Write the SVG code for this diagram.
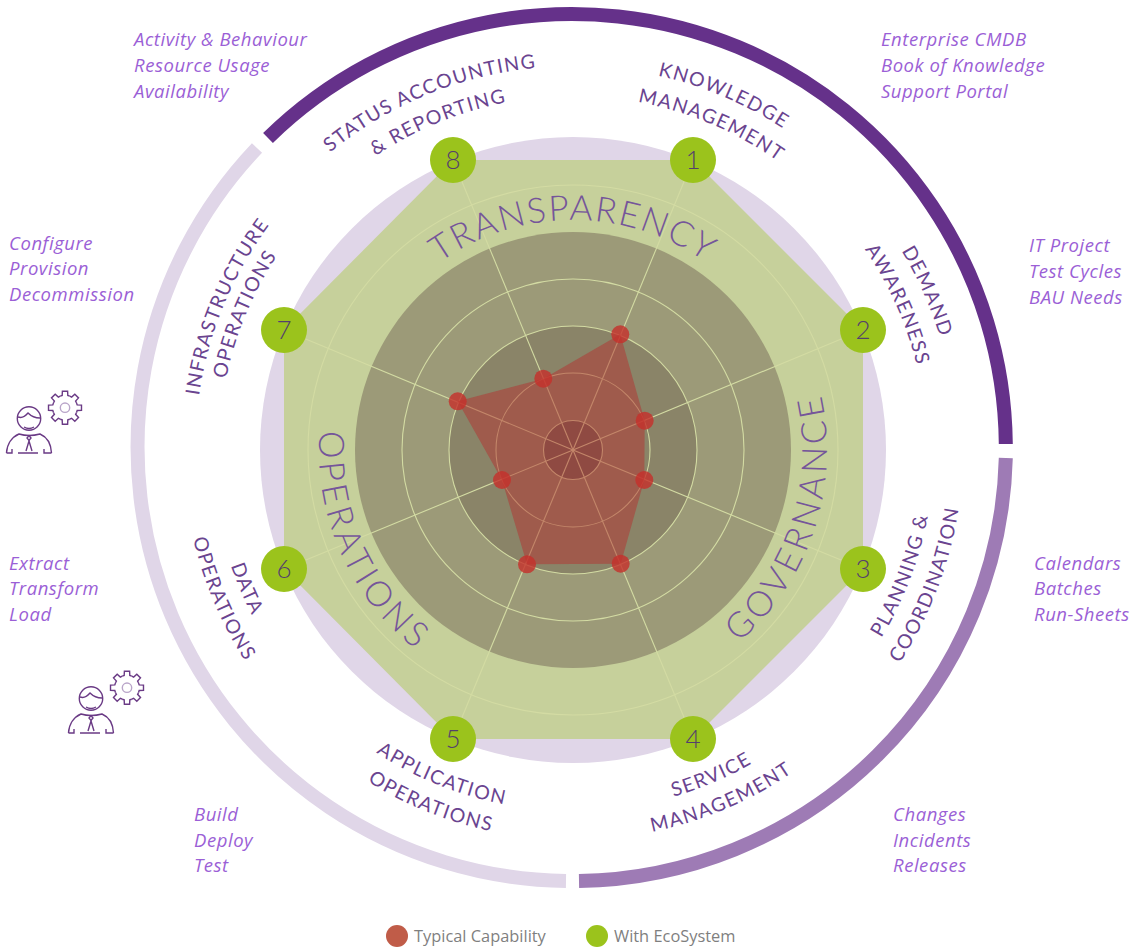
<svg xmlns="http://www.w3.org/2000/svg" xmlns:xlink="http://www.w3.org/1999/xlink" width="1144" height="947" viewBox="0 0 1144 947">
<style>
text{font-family:"Lato","Liberation Sans",sans-serif}
.ring{fill:none;stroke:#d3dba3;stroke-width:1.1}
.spoke{stroke:#d3dba3;stroke-width:1.1}
.arc{fill:none;stroke-width:14}
.dot{fill:#c6302b;fill-opacity:.8}
.node{fill:#9bc31c}
.num{font-size:26px;font-weight:300;fill:#54406c;text-anchor:middle}
.lab{font-size:19.500px;fill:#6a4490;text-anchor:middle;letter-spacing:1.4px}
.big{font-size:35px;font-weight:300;fill:#75559a;text-anchor:middle;letter-spacing:1.800px}
.big2{letter-spacing:4px}
.note{font-family:"Open Sans",sans-serif;font-style:italic;font-size:18.500px;letter-spacing:.55px;fill:#9b5fd6}
.leg{font-family:"Open Sans",sans-serif;font-size:16.400px;fill:#7f7f7f}
.ico{fill:none;stroke:#6a3a85;stroke-width:1.4}
</style>
<defs>
<path id="cw230" d="M573 680A230 230 0 1 1 573 220A230 230 0 1 1 573 680"/>
<path id="cw354" d="M573 804A354 354 0 1 1 573 96A354 354 0 1 1 573 804"/>
<path id="cw378" d="M573 828A378 378 0 1 1 573 72A378 378 0 1 1 573 828"/>
<path id="cw384" d="M573 834A384 384 0 1 1 573 66A384 384 0 1 1 573 834"/>
<path id="ccw254" d="M573 196A254 254 0 1 0 573 704A254 254 0 1 0 573 196"/>
<path id="ccw361" d="M573 89A361 361 0 1 0 573 811A361 361 0 1 0 573 89"/>
<path id="ccw390" d="M573 60A390 390 0 1 0 573 840A390 390 0 1 0 573 60"/>
<polyline id="tooth" points="-4.78,-11.55 -2.81,-12.18 -2.61,-16.49 2.61,-16.49 2.81,-12.18 4.78,-11.55"/>
<g id="worker" class="ico">
<circle cx="29" cy="418.5" r="11.7"/>
<path d="M18 417C24 419 27 414 28 413C31 416 36 418 40 418"/>
<path d="M24 427Q29 430 34 427"/>
<path d="M6.500 453C7 444 12 437 19 434Q29 437 40 434C47 437 51 444 51.500 453"/>
<path d="M6.500 453H12V449M18 453H38M44 449V453H51.500"/>
<path d="M29 435.500L31 438L29 440.500L27 438ZM29 441L26 451M29 441L32 451"/>
<g transform="translate(65 407.700)">
<use xlink:href="#tooth" href="#tooth"/>
<use xlink:href="#tooth" href="#tooth" transform="rotate(45)"/>
<use xlink:href="#tooth" href="#tooth" transform="rotate(90)"/>
<use xlink:href="#tooth" href="#tooth" transform="rotate(135)"/>
<use xlink:href="#tooth" href="#tooth" transform="rotate(180)"/>
<use xlink:href="#tooth" href="#tooth" transform="rotate(225)"/>
<use xlink:href="#tooth" href="#tooth" transform="rotate(270)"/>
<use xlink:href="#tooth" href="#tooth" transform="rotate(315)"/>
<circle r="4.700" stroke="#b9a5c9"/>
</g>
</g>
</defs>
<g id="outer-arcs">
<path class="arc" stroke="#e0d6e8" d="M566 881A434 434 0 0 1 257 148"/>
<path class="arc" stroke="#65318a" d="M268 138A434 434 0 0 1 1005.800 444"/>
<path class="arc" stroke="#9e7bb5" d="M1005.800 458A434 434 0 0 1 579 881"/>
</g>
<g id="radar-background">
<circle cx="573" cy="450" r="313" fill="#e0d6e8"/>
<polygon fill="#c6d09b" points="693,160 863,330 863,569 693,739 453,739 284,569 284,330 453,160"/>
<circle cx="573" cy="450" r="218" fill="#9c9a78"/>
<circle cx="573" cy="450" r="124" fill="#8a8468"/>
<circle class="ring" cx="573" cy="450" r="265"/>
<circle class="ring" cx="573" cy="450" r="171"/>
<circle class="ring" cx="573" cy="450" r="124"/>
<circle class="ring" cx="573" cy="450" r="77"/>
<circle class="ring" cx="573" cy="450" r="29.500" style="fill:#6a6255"/>
</g>
<g id="connectors">
<line class="spoke" x1="573" y1="450" x2="693" y2="160"/>
<line class="spoke" x1="573" y1="450" x2="863" y2="330"/>
<line class="spoke" x1="573" y1="450" x2="863" y2="569"/>
<line class="spoke" x1="573" y1="450" x2="693" y2="739"/>
<line class="spoke" x1="573" y1="450" x2="453" y2="739"/>
<line class="spoke" x1="573" y1="450" x2="284" y2="569"/>
<line class="spoke" x1="573" y1="450" x2="284" y2="330"/>
<line class="spoke" x1="573" y1="450" x2="453" y2="160"/>
</g>
<g id="capability">
<polygon fill="#b4322f" fill-opacity=".5" points="620.300,334.300 644.700,420.700 644.300,480 620.700,563.700 527,564.300 502,480 457.700,401.300 543.300,378.700"/>
<circle class="dot" cx="620.300" cy="334.300" r="9"/>
<circle class="dot" cx="644.700" cy="420.700" r="9"/>
<circle class="dot" cx="644.300" cy="480" r="9"/>
<circle class="dot" cx="620.700" cy="563.700" r="9"/>
<circle class="dot" cx="527" cy="564.300" r="9"/>
<circle class="dot" cx="502" cy="480" r="9"/>
<circle class="dot" cx="457.700" cy="401.300" r="9"/>
<circle class="dot" cx="543.300" cy="378.700" r="9"/>
</g>
<g id="areas">
<text class="big"><textPath href="#cw230" startOffset="50%">TRANSPARENCY</textPath></text>
<text class="big big2"><textPath href="#ccw254" startOffset="70%">GOVERNANCE</textPath></text>
<text class="big big2"><textPath href="#ccw254" startOffset="31.700%">OPERATIONS</textPath></text>
</g>
<g id="node1">
<circle class="node" cx="693" cy="160" r="23"/><text class="num" x="693" y="169">1</text>
<text class="lab"><textPath href="#cw384" startOffset="56.400%">KNOWLEDGE</textPath></text>
<text class="lab"><textPath href="#cw354" startOffset="56.400%">MANAGEMENT</textPath></text>
</g>
<g id="node2">
<circle class="node" cx="863" cy="330" r="23"/><text class="num" x="863" y="339">2</text>
<text class="lab"><textPath href="#cw384" startOffset="68.300%">DEMAND</textPath></text>
<text class="lab"><textPath href="#cw354" startOffset="68.300%">AWARENESS</textPath></text>
</g>
<g id="node3">
<circle class="node" cx="863" cy="569" r="23"/><text class="num" x="863" y="578">3</text>
<text class="lab"><textPath href="#ccw361" startOffset="69.200%">PLANNING &amp;</textPath></text>
<text class="lab"><textPath href="#ccw390" startOffset="69.200%">COORDINATION</textPath></text>
</g>
<g id="node4">
<circle class="node" cx="693" cy="739" r="23"/><text class="num" x="693" y="748">4</text>
<text class="lab"><textPath href="#ccw361" startOffset="56.400%">SERVICE</textPath></text>
<text class="lab"><textPath href="#ccw390" startOffset="56.400%">MANAGEMENT</textPath></text>
</g>
<g id="node5">
<circle class="node" cx="453" cy="739" r="23"/><text class="num" x="453" y="748">5</text>
<text class="lab"><textPath href="#ccw361" startOffset="43.900%">APPLICATION</textPath></text>
<text class="lab"><textPath href="#ccw390" startOffset="43.900%">OPERATIONS</textPath></text>
</g>
<g id="node6">
<circle class="node" cx="284" cy="569" r="23"/><text class="num" x="284" y="578">6</text>
<text class="lab"><textPath href="#ccw361" startOffset="31.400%">DATA</textPath></text>
<text class="lab"><textPath href="#ccw390" startOffset="31.400%">OPERATIONS</textPath></text>
</g>
<g id="node7">
<circle class="node" cx="284" cy="330" r="23"/><text class="num" x="284" y="339">7</text>
<text class="lab"><textPath href="#cw378" startOffset="31.250%">INFRASTRUCTURE</textPath></text>
<text class="lab"><textPath href="#cw354" startOffset="31.250%">OPERATIONS</textPath></text>
</g>
<g id="node8">
<circle class="node" cx="453" cy="160" r="23"/><text class="num" x="453" y="169">8</text>
<text class="lab"><textPath href="#cw384" startOffset="43.800%">STATUS ACCOUNTING</textPath></text>
<text class="lab"><textPath href="#cw354" startOffset="43.800%">&amp; REPORTING</textPath></text>
</g>
<g id="notes">
<text class="note" x="134" y="46">Activity &amp; Behaviour</text><text class="note" x="134" y="72">Resource Usage</text><text class="note" x="134" y="98">Availability</text>
<text class="note" x="881" y="46">Enterprise CMDB</text><text class="note" x="881" y="72">Book of Knowledge</text><text class="note" x="881" y="98">Support Portal</text>
<text class="note" x="1029" y="252">IT Project</text><text class="note" x="1029" y="278">Test Cycles</text><text class="note" x="1029" y="304">BAU Needs</text>
<text class="note" x="9" y="250">Configure</text><text class="note" x="9" y="275">Provision</text><text class="note" x="9" y="301">Decommission</text>
<text class="note" x="1034" y="570">Calendars</text><text class="note" x="1034" y="595">Batches</text><text class="note" x="1034" y="621">Run-Sheets</text>
<text class="note" x="9" y="570">Extract</text><text class="note" x="9" y="595">Transform</text><text class="note" x="9" y="621">Load</text>
<text class="note" x="893" y="821">Changes</text><text class="note" x="893" y="847">Incidents</text><text class="note" x="893" y="872">Releases</text>
<text class="note" x="194" y="821">Build</text><text class="note" x="194" y="847">Deploy</text><text class="note" x="194" y="872">Test</text>
</g>
<g id="icon-worker-1"><use href="#worker" xlink:href="#worker"/></g>
<g id="icon-worker-2"><use href="#worker" xlink:href="#worker" transform="translate(62 280)"/></g>
<g id="legend">
<circle cx="397" cy="936" r="11" fill="#c05c48"/><text class="leg" x="414" y="942">Typical Capability</text>
<circle cx="597" cy="936" r="11" fill="#9bc31c"/><text class="leg" x="614" y="942">With EcoSystem</text>
</g>
</svg>
